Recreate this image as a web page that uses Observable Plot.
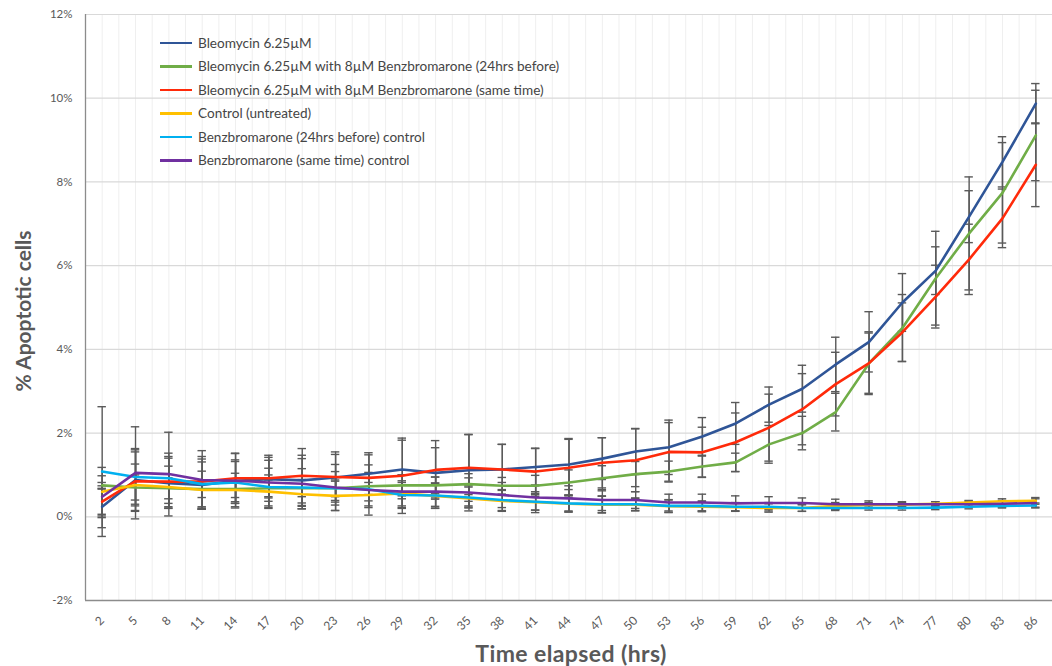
<!DOCTYPE html>
<html>
<head>
<meta charset="utf-8">
<script src="https://cdn.jsdelivr.net/npm/d3@7"></script>
<script src="https://cdn.jsdelivr.net/npm/@observablehq/plot@0.6"></script>
<style>
  body { margin: 0; background: #fff; }
  #chart { position: relative; width: 1052px; height: 666px; font-family: Lato, "Open Sans", sans-serif; }
  #legend { position: absolute; left: 160px; top: 31px; font-size: 13.6px; color: #454545; }
  .row { display: flex; align-items: center; height: 23.5px; white-space: nowrap; }
  .swatch { width: 32px; height: 2.5px; margin-right: 6px; }
  .ytitle { position: absolute; left: 22px; top: 311px; transform: translate(-50%, -50%) rotate(-90deg);
            font-size: 21px; font-weight: bold; color: #595959; white-space: nowrap; }
  .xtitle { position: absolute; left: 571px; top: 653px; transform: translate(-50%, -50%);
            font-size: 23px; font-weight: bold; color: #595959; white-space: nowrap; letter-spacing: 0.4px; }
</style>
</head>
<body>
<div id="chart"></div>
<script>
// Time points (hours after treatment)
const hours = [2, 5, 8, 11, 14, 17, 20, 23, 26, 29, 32, 35, 38, 41, 44, 47, 50, 53, 56, 59, 62, 65, 68, 71, 74, 77, 80, 83, 86];

const seriesNames = [
  "Bleomycin 6.25µM",
  "Bleomycin 6.25µM with 8µM Benzbromarone (24hrs before)",
  "Bleomycin 6.25µM with 8µM Benzbromarone (same time)",
  "Control (untreated)",
  "Benzbromarone (24hrs before) control",
  "Benzbromarone (same time) control"
];
const seriesColors = ["#2F5597", "#70AD47", "#FF2A0A", "#FFC000", "#00B0F0", "#7030A0"];

// Mean % apoptotic cells
const bleo = [0.24, 0.88, 0.80, 0.76, 0.86, 0.90, 0.87, 0.94, 1.03, 1.13, 1.05, 1.11, 1.13, 1.19, 1.25, 1.39, 1.56, 1.66, 1.92, 2.23, 2.68, 3.06, 3.64, 4.18, 5.12, 5.88, 7.17, 8.48, 9.87];
const bleoBenz24 = [0.75, 0.70, 0.68, 0.66, 0.66, 0.68, 0.68, 0.68, 0.73, 0.75, 0.75, 0.78, 0.74, 0.74, 0.82, 0.92, 1.02, 1.08, 1.20, 1.30, 1.73, 2.00, 2.50, 3.67, 4.51, 5.70, 6.77, 7.74, 9.11];
const bleoBenzSame = [0.36, 0.85, 0.84, 0.84, 0.92, 0.92, 0.98, 0.95, 0.93, 0.98, 1.12, 1.17, 1.13, 1.08, 1.17, 1.29, 1.35, 1.55, 1.54, 1.78, 2.13, 2.57, 3.17, 3.67, 4.41, 5.26, 6.15, 7.13, 8.41];
const control = [0.60, 0.76, 0.71, 0.64, 0.64, 0.60, 0.54, 0.50, 0.52, 0.56, 0.50, 0.44, 0.38, 0.35, 0.31, 0.29, 0.29, 0.25, 0.24, 0.23, 0.21, 0.21, 0.26, 0.28, 0.29, 0.31, 0.34, 0.37, 0.38];
const benz24 = [1.08, 0.95, 0.92, 0.78, 0.82, 0.71, 0.70, 0.68, 0.66, 0.52, 0.51, 0.46, 0.40, 0.36, 0.32, 0.30, 0.30, 0.26, 0.26, 0.24, 0.24, 0.21, 0.21, 0.21, 0.21, 0.22, 0.24, 0.26, 0.27];
const benzSame = [0.48, 1.05, 1.02, 0.88, 0.86, 0.82, 0.79, 0.70, 0.64, 0.60, 0.60, 0.58, 0.52, 0.46, 0.44, 0.40, 0.40, 0.34, 0.34, 0.32, 0.33, 0.33, 0.30, 0.30, 0.30, 0.30, 0.30, 0.31, 0.33];

// Error (± half-range of the error bars)
const bleoErr = [0.50, 0.75, 0.60, 0.55, 0.50, 0.45, 0.60, 0.55, 0.50, 0.70, 0.60, 0.85, 0.60, 0.45, 0.60, 0.50, 0.55, 0.65, 0.45, 0.50, 0.42, 0.56, 0.65, 0.72, 0.69, 0.57, 0.62, 0.60, 0.48];
const bleoBenz24Err = [0.07, 0.30, 0.25, 0.20, 0.20, 0.20, 0.20, 0.20, 0.20, 0.25, 0.20, 0.25, 0.20, 0.25, 0.30, 0.30, 0.30, 0.25, 0.25, 0.22, 0.45, 0.40, 0.45, 0.72, 0.80, 1.12, 1.35, 1.20, 1.08];
const bleoBenzSameErr = [0.30, 0.70, 0.60, 0.60, 0.60, 0.55, 0.65, 0.60, 0.55, 0.90, 0.70, 0.80, 0.60, 0.55, 0.70, 0.60, 0.75, 0.70, 0.60, 0.70, 0.80, 0.85, 0.76, 0.75, 0.70, 0.75, 0.84, 0.70, 1.00];
const controlErr = [0.58, 0.50, 0.50, 0.45, 0.40, 0.40, 0.35, 0.35, 0.30, 0.30, 0.30, 0.30, 0.25, 0.25, 0.20, 0.20, 0.15, 0.15, 0.12, 0.10, 0.10, 0.08, 0.08, 0.06, 0.05, 0.05, 0.05, 0.06, 0.08];
const benz24Err = [1.55, 0.65, 0.60, 0.60, 0.50, 0.45, 0.45, 0.40, 0.40, 0.30, 0.30, 0.25, 0.25, 0.20, 0.20, 0.20, 0.15, 0.15, 0.12, 0.10, 0.10, 0.08, 0.06, 0.05, 0.05, 0.05, 0.05, 0.05, 0.06];
const benzSameErr = [0.50, 1.10, 1.00, 0.70, 0.65, 0.60, 0.60, 0.55, 0.60, 0.40, 0.35, 0.35, 0.30, 0.30, 0.30, 0.25, 0.20, 0.20, 0.20, 0.18, 0.15, 0.12, 0.12, 0.08, 0.06, 0.06, 0.07, 0.08, 0.10];

const yTicks = [-2, 0, 2, 4, 6, 8, 10, 12];

const seriesValues = [bleo, bleoBenz24, bleoBenzSame, control, benz24, benzSame];
const seriesErrors = [bleoErr, bleoBenz24Err, bleoBenzSameErr, controlErr, benz24Err, benzSameErr];

// Long-format table for Plot
const rows = [];
seriesNames.forEach((name, s) => {
  hours.forEach((h, i) => {
    rows.push({series: name, hour: h, value: seriesValues[s][i], err: seriesErrors[s][i]});
  });
});

// Category gridlines: one at each time point and one halfway between
const step = hours[1] - hours[0];
const xMin = hours[0] - step / 2;
const xMax = hours[hours.length - 1] + step / 2;
const gridX = d3.range(xMin, xMax + 0.01, step / 2);
const cap = 0.38; // half-width of error-bar caps, in hours

const errColor = "#5a5a5a";

const chart = Plot.plot({
  width: 1052,
  height: 666,
  marginLeft: 85,
  marginRight: 0,
  marginTop: 14,
  marginBottom: 66,
  style: {fontFamily: "Lato, 'Open Sans', sans-serif", color: "#595959", background: "#fff"},
  x: {domain: [xMin, xMax]},
  y: {domain: [-2, 12]},
  color: {domain: seriesNames, range: seriesColors},
  marks: [
    Plot.ruleX(gridX, {stroke: "#efefef", strokeWidth: 1}),
    Plot.ruleY(yTicks, {stroke: "#d9d9d9", strokeWidth: 1.2}),
    Plot.axisY({ticks: yTicks, tickFormat: d => d + "%", tickSize: 0, tickPadding: 13, fontSize: 11.5, label: null}),
    Plot.axisX({ticks: hours, tickFormat: d => String(d), tickRotate: -45, tickSize: 0, tickPadding: 18, fontSize: 12, label: null}),
    // error bars
    Plot.ruleX(rows, {x: "hour", y1: d => d.value - d.err, y2: d => d.value + d.err, stroke: errColor, strokeWidth: 1.4}),
    Plot.ruleY(rows, {y: d => d.value + d.err, x1: d => d.hour - cap, x2: d => d.hour + cap, stroke: errColor, strokeWidth: 1.4}),
    Plot.ruleY(rows, {y: d => d.value - d.err, x1: d => d.hour - cap, x2: d => d.hour + cap, stroke: errColor, strokeWidth: 1.4}),
    // series lines
    Plot.line(rows, {x: "hour", y: "value", z: "series", stroke: "series", strokeWidth: 2.6, strokeLinejoin: "round"}),
    // axis frame
    Plot.ruleX([xMin], {stroke: "#8c8c8c", strokeWidth: 1.3}),
    Plot.ruleY([-2], {stroke: "#8c8c8c", strokeWidth: 1.3})
  ]
});

const root = document.getElementById("chart");
root.appendChild(chart);

// Legend
const legend = document.createElement("div");
legend.id = "legend";
seriesNames.forEach((name, s) => {
  const row = document.createElement("div");
  row.className = "row";
  const sw = document.createElement("span");
  sw.className = "swatch";
  sw.style.background = seriesColors[s];
  const label = document.createElement("span");
  label.textContent = name;
  row.appendChild(sw);
  row.appendChild(label);
  legend.appendChild(row);
});
root.appendChild(legend);

// Axis titles
const yt = document.createElement("div");
yt.className = "ytitle";
yt.textContent = "% Apoptotic cells";
root.appendChild(yt);
const xt = document.createElement("div");
xt.className = "xtitle";
xt.textContent = "Time elapsed (hrs)";
root.appendChild(xt);
</script>
</body>
</html>
